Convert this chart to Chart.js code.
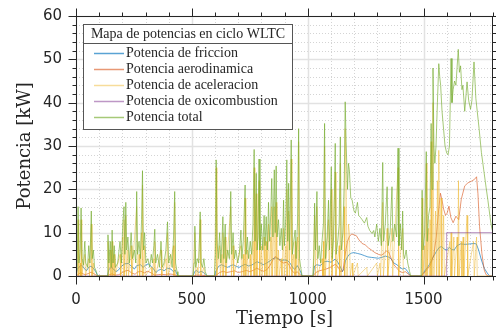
<!DOCTYPE html>
<html>
<head>
<meta charset="utf-8">
<script src="https://cdn.jsdelivr.net/npm/chart.js@4/dist/chart.umd.min.js"></script>
<style>
  html, body { margin: 0; padding: 0; background: #fff; }
</style>
</head>
<body>
<canvas id="chart" width="496" height="335"></canvas>
<script>
// Potencias en ciclo WLTC: [tiempo (s), potencia (kW)]
const friccion = [[0,0],[5,1.5],[15,2.2],[25,2.5],[35,1.8],[45,1.2],[55,2.0],[65,2.3],[75,1.8],[85,1.0],[92,0.3],[95,0],[135,0],[142,1.5],[152,2.0],[162,1.6],[172,1.0],[182,1.3],[195,2.2],[210,2.8],[226,2.9],[240,2.2],[252,1.6],[262,2.4],[278,2.6],[290,2.0],[300,2.5],[312,2.8],[325,2.2],[335,1.6],[345,0.8],[355,1.3],[368,1.6],[380,1.2],[395,1.8],[410,1.6],[420,1.0],[428,1.4],[435,0.5],[440,0],[505,0],[512,1.0],[520,1.3],[530,0.8],[540,1.1],[550,0.8],[560,0.4],[567,0],[598,0],[605,1.2],[615,2.2],[628,2.6],[640,2.3],[655,2.0],[668,2.4],[680,2.6],[692,2.2],[705,2.0],[718,2.4],[730,2.7],[745,2.3],[758,2.5],[770,2.9],[781,3.3],[795,3.0],[808,2.6],[820,2.9],[838,3.5],[850,4.0],[862,4.2],[875,3.9],[888,3.6],[900,3.7],[915,3.5],[925,2.9],[935,2.0],[945,1.5],[955,2.4],[962,1.8],[970,0.9],[976,0],[1023,0],[1030,2.3],[1040,2.6],[1055,2.4],[1073,3.3],[1085,3.4],[1100,3.2],[1119,3.9],[1130,3.2],[1142,2.0],[1150,1.0],[1156,1.6],[1163,3.5],[1172,4.4],[1180,5.0],[1190,5.3],[1200,5.4],[1215,5.2],[1230,5.0],[1245,4.7],[1260,4.4],[1275,4.3],[1290,4.2],[1305,4.1],[1320,4.3],[1335,4.6],[1348,4.4],[1360,4.0],[1372,3.0],[1385,2.6],[1398,2.0],[1410,1.6],[1420,1.8],[1432,1.0],[1440,0.3],[1445,0],[1490,0],[1500,0.8],[1512,1.6],[1525,2.6],[1540,4.2],[1555,5.6],[1568,6.6],[1578,6.8],[1590,6.2],[1600,6.0],[1612,6.6],[1622,6.1],[1632,6.0],[1645,7.0],[1660,7.4],[1680,7.3],[1700,7.4],[1718,7.5],[1728,7.4],[1738,6.0],[1750,3.7],[1762,1.8],[1775,0.7],[1785,0],[1800,0]];

const aerodinamica = [[0,0],[10,0.4],[20,0.8],[30,0.5],[40,0.3],[55,0.6],[65,0.9],[75,0.6],[90,0.1],[95,0],[135,0],[145,0.3],[155,0.5],[170,0.2],[185,0.3],[200,0.8],[215,1.2],[226,1.3],[240,0.7],[255,0.4],[265,0.9],[280,1.1],[295,0.7],[310,1.1],[325,0.7],[340,0.2],[355,0.3],[370,0.4],[385,0.3],[400,0.5],[415,0.4],[425,0.3],[440,0],[505,0],[520,0.2],[540,0.2],[567,0],[598,0],[608,0.3],[620,0.8],[635,1.1],[650,0.8],[668,1.0],[685,1.2],[700,0.8],[718,1.0],[735,1.3],[750,1.0],[765,1.3],[781,1.8],[795,1.4],[810,1.1],[825,1.5],[838,2.5],[850,3.7],[860,4.5],[870,4.2],[882,3.4],[895,3.0],[910,3.2],[920,2.5],[932,1.2],[945,0.6],[955,1.0],[965,0.4],[976,0],[1023,0],[1035,0.8],[1050,1.2],[1073,1.5],[1090,1.8],[1105,2.2],[1119,2.7],[1130,2.2],[1142,1.0],[1152,1.2],[1158,3.5],[1165,6.0],[1172,8.0],[1180,9.1],[1190,9.7],[1200,9.5],[1210,9.3],[1222,8.3],[1235,7.5],[1248,7.2],[1262,6.5],[1275,6.0],[1290,5.4],[1305,5.0],[1318,4.8],[1330,5.2],[1340,5.8],[1350,5.5],[1360,4.1],[1372,2.6],[1385,1.8],[1398,1.0],[1410,0.8],[1422,1.0],[1435,0.4],[1445,0],[1490,0],[1500,0.5],[1515,1.5],[1530,2.5],[1545,5.0],[1555,9],[1565,15],[1573,19.1],[1580,17.5],[1587,15.4],[1595,14],[1602,14.5],[1610,16.1],[1618,13.5],[1628,12.3],[1640,13.8],[1652,13],[1663,17.7],[1678,20.8],[1692,21.5],[1708,21.9],[1720,22.3],[1729,22.9],[1735,19],[1742,11.4],[1752,5.2],[1762,1.4],[1770,0.3],[1780,0],[1800,0]];

const aceleracion = [[0,0],[6,0],[9,13],[12,0],[18,3],[20,0],[22,13],[25,0],[38,5],[41,0],[55,4],[58,0],[66,12],[69,0],[75,3],[78,0],[135,0],[138,8],[141,0],[148,6],[151,0],[156,8],[159,0],[165,5],[168,0],[190,5],[193,0],[202,9],[205,0],[207,13],[210,0],[215,14],[218,0],[224,6],[227,0],[238,7],[241,0],[262,16],[265,0],[272,5],[275,0],[283,10],[285,0],[287,21],[290,0],[296,7],[299,0],[325,2],[328,0],[336,4],[338,0],[340,8],[343,0],[367,6],[370,0],[388,4],[391,0],[395,10],[398,0],[421,7],[423,0],[426,17],[429,0],[505,0],[513,10],[516,0],[524,2],[527,0],[536,13],[539,0],[552,2],[555,0],[598,0],[605,25],[608,0],[620,7],[623,0],[630,5],[632,0],[634,10],[637,0],[644,9],[647,0],[668,16],[671,0],[678,7],[681,0],[712,7],[715,0],[722,5],[725,0],[730,18],[733,0],[740,6],[743,0],[752,5],[755,0],[764,8],[767,0],[769,25],[772,0],[778,19],[781,0],[790,22],[793,0],[800,7],[803,0],[812,9],[815,0],[821,8],[824,0],[831,12],[834,0],[841,9],[843,0],[845,16],[848,0],[856,16],[859,0],[864,17],[867,0],[874,6],[877,0],[886,4],[889,0],[896,11],[899,0],[906,7],[908,0],[910,20],[913,0],[918,15],[921,0],[929,27],[932,0],[940,5],[943,0],[946,8],[949,0],[956,9],[959,0],[961,31],[964,0],[1023,0],[1030,14],[1033,0],[1040,16],[1043,0],[1062,4],[1065,0],[1068,8],[1070,0],[1073,30],[1076,0],[1090,13],[1093,0],[1102,20],[1105,0],[1119,24],[1122,0],[1136,7],[1138,0],[1141,26],[1144,0],[1158,16],[1160,0],[1162,34],[1166,22],[1170,0],[1176,12],[1180,10],[1184,0],[1192,3],[1195,0],[1215,3],[1218,0],[1255,2],[1258,0],[1298,3],[1301,0],[1312,3],[1315,0],[1324,17],[1327,0],[1343,11],[1346,0],[1364,11],[1367,0],[1390,25],[1393,0],[1410,11],[1413,0],[1490,0],[1494,18],[1497,0],[1505,7],[1508,0],[1512,26],[1515,0],[1522,11],[1525,0],[1528,13],[1530,0],[1533,31],[1536,0],[1541,40],[1545,0],[1552,15],[1556,0],[1560,22],[1563,0],[1566,29],[1569,0],[1576,18],[1579,0],[1587,14],[1590,0],[1614,8],[1617,0],[1619,10],[1622,0],[1631,9],[1634,0],[1645,9],[1648,0],[1651,22],[1654,0],[1663,8],[1666,0],[1671,9],[1674,0],[1688,14],[1691,0],[1716,8],[1719,0],[1729,9],[1732,0],[1800,0]];

const oxicombustion = [[0,0],[1600,0],[1600,10],[1800,10]];

const total = [[0,0],[5,2],[9,16],[13,3],[18,6],[22,15.7],[26,4],[32,2.5],[38,8],[42,3],[50,2],[55,7],[60,3],[66,15],[70,4],[75,6],[80,2],[88,1],[92,0],[135,0],[138,9.5],[142,3],[148,8],[152,2],[156,10.6],[160,3],[165,7],[170,2],[180,3],[190,8],[196,3],[202,12],[207,16],[211,5],[215,17],[219,6],[224,9],[230,3],[238,10],[244,4],[252,6],[258,3],[262,19.5],[266,5],[272,8],[278,4],[283,13],[287,24.3],[291,6],[296,10],[302,3],[310,4],[318,2],[325,5],[330,3],[336,7],[340,10.8],[344,3],[352,5],[360,2],[367,8],[372,2],[380,3],[388,6],[395,12.5],[400,3],[408,5],[415,2],[421,9],[426,19.5],[430,3],[436,1],[440,0],[505,0],[510,3],[513,11.5],[517,2],[524,4],[530,3],[536,14.8],[540,3],[546,2],[552,4],[558,1],[565,0],[598,0],[602,5],[605,26.8],[609,8],[614,4],[620,10],[625,3],[630,8],[634,13.7],[638,4],[644,12],[648,3],[655,6],[662,4],[668,19.5],[672,5],[678,10],[684,4],[690,6],[698,3],[705,5],[712,10.6],[716,4],[722,8],[730,21],[734,5],[740,9],[745,4],[752,8],[758,5],[764,12],[769,29.2],[773,8],[778,23.7],[782,6],[786,9],[790,27],[794,6],[800,12],[806,6],[812,14],[816,7],[821,13.7],[826,6],[831,17],[836,8],[841,15],[845,22.5],[850,9],[856,24.5],[860,10],[864,25.4],[868,9],[874,13],[880,7],[886,11],[891,6],[896,17.5],[900,7],[906,14],[910,26.8],[914,8],[918,21.4],[922,6],[929,31.4],[934,5],[940,8],[946,10.6],[950,4],[956,12],[961,34],[965,4],[970,2],[976,0],[1023,0],[1027,5],[1030,16.8],[1034,6],[1040,19.5],[1044,4],[1050,7],[1056,3],[1062,8],[1068,12],[1073,35.2],[1077,4],[1084,9],[1090,17.5],[1094,6],[1102,25.2],[1106,4],[1112,9],[1119,30.6],[1123,5],[1130,8],[1136,12],[1141,32.1],[1145,6],[1152,10],[1158,22],[1162,40.2],[1166,31],[1172,20],[1176,26],[1180,24.5],[1186,18],[1192,17.5],[1200,15],[1206,14.5],[1215,17],[1220,14],[1228,13.5],[1235,13],[1245,12.2],[1255,13.5],[1260,11.5],[1268,10.5],[1278,9.8],[1285,10.5],[1290,9],[1298,12],[1305,8],[1312,11],[1318,7],[1324,26.2],[1328,8],[1335,12],[1343,20.6],[1348,7],[1356,10],[1364,20.6],[1368,8],[1376,12],[1384,9],[1390,29.5],[1394,7],[1400,12],[1406,6],[1410,15],[1414,5],[1418,4],[1425,6],[1432,3],[1440,1],[1445,0],[1490,0],[1494,19.8],[1498,6],[1505,10],[1512,28.7],[1516,8],[1522,14],[1528,16],[1533,35.2],[1537,20],[1541,48],[1545,30],[1549,26],[1554,30],[1560,40],[1566,49],[1570,46],[1574,44],[1580,38],[1587,33.7],[1593,30],[1600,28.4],[1606,28],[1612,30],[1619,50.2],[1623,40],[1628,43],[1634,45],[1640,44],[1650,52.3],[1655,47],[1660,48.5],[1666,43],[1670,44],[1678,38],[1688,44.8],[1695,40.5],[1703,38.5],[1709,40.5],[1718,49.4],[1726,41],[1740,34],[1750,28.5],[1760,24.5],[1770,20.5],[1778,17.5],[1789,12.9],[1795,11],[1800,10]];

const xTicks = [0, 500, 1000, 1500];
const yTicks = [0, 10, 20, 30, 40, 50, 60];
const legendTitle = 'Mapa de potencias en ciclo WLTC';

const AXIS = '#262626';
const SERIF = '"DejaVu Serif", serif';
const LEGEND_FONT = '14px "Liberation Serif", serif';
const SANS = '"DejaVu Sans", sans-serif';

const toXY = arr => arr.map(([t, p]) => ({ x: t, y: p }));

const series = [
  { label: 'Potencia de friccion', data: friccion, color: 'rgba(0,114,189,0.65)' },
  { label: 'Potencia aerodinamica', data: aerodinamica, color: 'rgba(217,83,25,0.6)' },
  { label: 'Potencia de aceleracion', data: aceleracion, color: 'rgba(237,177,32,0.45)' },
  { label: 'Potencia de oxicombustion', data: oxicombustion, color: 'rgba(126,47,142,0.5)' },
  { label: 'Potencia total', data: total, color: 'rgba(119,172,48,0.65)' }
];

// grid: dotted minor lines, solid major lines
const gridPlugin = {
  id: 'matGrid',
  beforeDatasetsDraw(chart) {
    const { ctx, chartArea: a, scales: { x, y } } = chart;
    ctx.save();
    ctx.lineWidth = 1;
    ctx.strokeStyle = '#d4d4d4';
    ctx.setLineDash([1, 2]);
    for (let t = 100; t < 1800; t += 100) {
      if (t % 500 === 0) continue;
      const px = Math.round(x.getPixelForValue(t)) + 0.5;
      ctx.beginPath(); ctx.moveTo(px, a.top); ctx.lineTo(px, a.bottom); ctx.stroke();
    }
    for (let v = 2; v < 60; v += 2) {
      if (v % 10 === 0) continue;
      const py = Math.round(y.getPixelForValue(v)) + 0.5;
      ctx.beginPath(); ctx.moveTo(a.left, py); ctx.lineTo(a.right, py); ctx.stroke();
    }
    ctx.setLineDash([]);
    ctx.strokeStyle = '#e2e2e2';
    ctx.lineWidth = 1.5;
    xTicks.forEach(t => {
      const px = Math.round(x.getPixelForValue(t)) + 0.5;
      ctx.beginPath(); ctx.moveTo(px, a.top); ctx.lineTo(px, a.bottom); ctx.stroke();
    });
    yTicks.forEach(v => {
      const py = Math.round(y.getPixelForValue(v)) + 0.5;
      ctx.beginPath(); ctx.moveTo(a.left, py); ctx.lineTo(a.right, py); ctx.stroke();
    });
    ctx.restore();
  }
};

// axis box with outward ticks, then the boxed legend
const framePlugin = {
  id: 'matFrame',
  afterDatasetsDraw(chart) {
    const { ctx, chartArea: a, scales: { x, y } } = chart;
    ctx.save();
    ctx.strokeStyle = AXIS;
    ctx.lineWidth = 1;
    const L = Math.round(a.left) + 0.5, R = Math.round(a.right) - 0.5;
    const T = Math.round(a.top) + 0.5, B = Math.round(a.bottom) + 0.5;
    ctx.strokeRect(L, T, R - L, B - T);
    ctx.beginPath();
    for (let t = 0; t <= 1800; t += 100) {
      const px = Math.round(x.getPixelForValue(t)) + 0.5;
      const len = t % 500 === 0 ? 8 : 4;
      ctx.moveTo(px, B); ctx.lineTo(px, B + len);
      ctx.moveTo(px, T); ctx.lineTo(px, T - len);
    }
    for (let v = 0; v <= 60; v += 2) {
      const py = Math.round(y.getPixelForValue(v)) + 0.5;
      const len = v % 10 === 0 ? 8 : 4;
      ctx.moveTo(L, py); ctx.lineTo(L - len, py);
      ctx.moveTo(R, py); ctx.lineTo(R + len, py);
    }
    ctx.stroke();

    // legend
    const bx = 83.5, by = 24.5, bw = 209, bh = 105;
    ctx.fillStyle = '#fff';
    ctx.fillRect(bx, by, bw, bh);
    ctx.strokeStyle = '#555';
    ctx.strokeRect(bx, by, bw, bh);
    ctx.beginPath(); ctx.moveTo(bx, 43.5); ctx.lineTo(bx + bw, 43.5); ctx.stroke();
    ctx.font = LEGEND_FONT;
    ctx.fillStyle = AXIS;
    ctx.textBaseline = 'middle';
    ctx.textAlign = 'center';
    ctx.fillText(legendTitle, bx + bw / 2, 34);
    ctx.textAlign = 'left';
    chart.data.datasets.forEach((ds, i) => {
      const cy = 53 + i * 16;
      ctx.strokeStyle = ds.borderColor;
      ctx.lineWidth = 1.5;
      ctx.beginPath(); ctx.moveTo(94, cy + 0.5); ctx.lineTo(124, cy + 0.5); ctx.stroke();
      ctx.fillStyle = AXIS;
      ctx.fillText(ds.label, 126, cy);
    });
    ctx.restore();
  }
};

new Chart(document.getElementById('chart'), {
  type: 'line',
  data: {
    datasets: series.map((s, i) => ({
      label: s.label,
      data: toXY(s.data),
      borderColor: s.color,
      backgroundColor: s.color,
      borderWidth: 1,
      pointRadius: 0,
      tension: 0,
      fill: false,
      order: series.length - i
    }))
  },
  options: {
    responsive: false,
    animation: false,
    layout: { padding: { top: 16, right: 3, left: 0, bottom: 0 } },
    plugins: { legend: { display: false }, tooltip: { enabled: false } },
    scales: {
      x: {
        type: 'linear', min: 0, max: 1800,
        // tick marks are drawn by matFrame; tickLength only spaces the labels
        grid: { display: false, drawTicks: true, tickLength: 15 },
        border: { display: false },
        afterBuildTicks: s => { s.ticks = xTicks.map(v => ({ value: v })); },
        afterFit: s => { s.height = 59; },
        ticks: { padding: 0, color: AXIS, maxRotation: 0, font: { family: SANS, size: 15 }, callback: v => String(v) },
        title: { display: true, text: 'Tiempo [s]', color: AXIS, font: { family: SERIF, size: 18 }, padding: { top: 0, bottom: 5 } }
      },
      y: {
        type: 'linear', min: 0, max: 60,
        grid: { display: false, drawTicks: true, tickLength: 14 },
        border: { display: false },
        afterBuildTicks: s => { s.ticks = yTicks.map(v => ({ value: v })); },
        afterFit: s => { s.width = 76; },
        ticks: { padding: 0, color: AXIS, font: { family: SANS, size: 15 }, callback: v => String(v) },
        title: { display: true, text: 'Potencia [kW]', color: AXIS, font: { family: SERIF, size: 18 }, padding: { top: 15, bottom: 0 } }
      }
    }
  },
  plugins: [gridPlugin, framePlugin]
});
</script>
</body>
</html>
